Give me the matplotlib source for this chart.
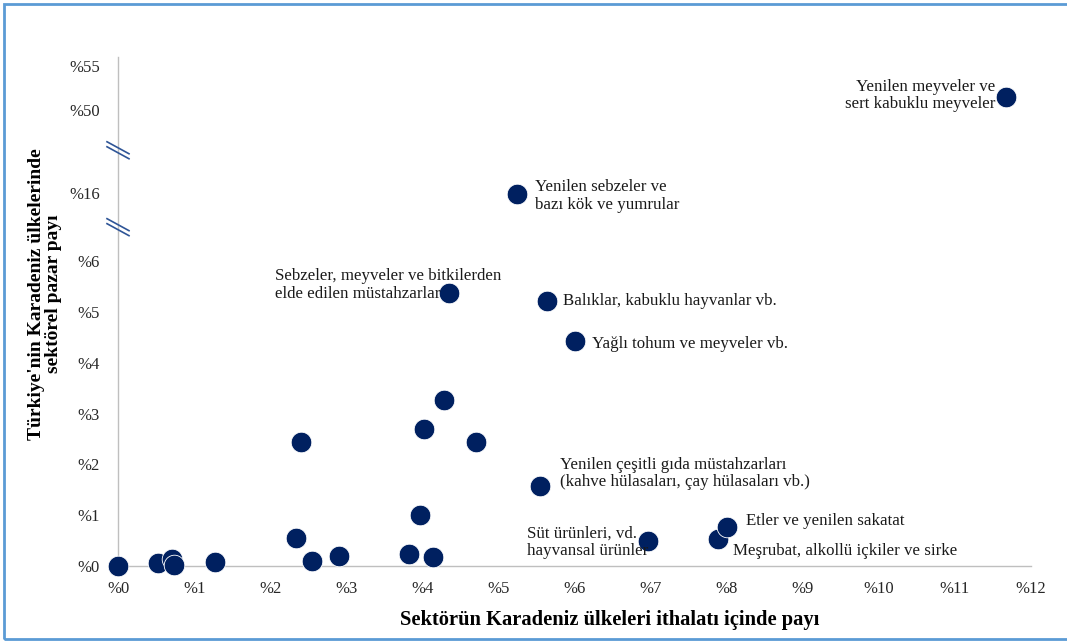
import numpy as np
import matplotlib
matplotlib.use("Agg")
import matplotlib.pyplot as plt
from matplotlib.patches import Rectangle
from matplotlib.lines import Line2D

plt.rcParams['font.family'] = ['Liberation Serif', 'DejaVu Serif']

# ithalat payi (%), pazar payi (%)
x_pay = [0.0, 0.52, 0.71, 0.73, 1.27, 2.34, 2.41, 2.55, 2.90, 3.82, 4.14, 3.97,
         4.02, 4.29, 4.71, 5.55, 6.97, 7.88, 8.00, 6.00, 5.64, 4.35, 5.24, 11.67]
y_pay = [0.0, 0.06, 0.14, 0.01, 0.07, 0.55, 2.44, 0.09, 0.19, 0.24, 0.18, 1.00,
         2.69, 3.27, 2.44, 1.57, 0.50, 0.53, 0.77, 4.43, 5.22, 5.37, 15.85, 51.5]

# etiketli noktalar: (index, metin, ofset px, hizalama)
etiketler = [
    (23, "Yenilen meyveler ve\nsert kabuklu meyveler", (-11, 1), 'right'),
    (22, "Yenilen sebzeler ve\nbazı kök ve yumrular", (18, -2), 'left'),
    (21, "Sebzeler, meyveler ve bitkilerden\nelde edilen müstahzarlar", (-174, 8), 'left'),
    (20, "Balıklar, kabuklu hayvanlar vb.", (16, 0), 'left'),
    (19, "Yağlı tohum ve meyveler vb.", (17, -3), 'left'),
    (15, "Yenilen çeşitli gıda müstahzarları\n(kahve hülasaları, çay hülasaları vb.)", (20, 13), 'left'),
    (16, "Süt ürünleri, vd.\nhayvansal ürünler", (-121, -2), 'left'),
    (18, "Etler ve yenilen sakatat", (19, 6), 'left'),
    (17, "Meşrubat, alkollü içkiler ve sirke", (15, -12), 'left'),
]

x_ticks = list(range(0, 13))
y_ticks = [0, 1, 2, 3, 4, 5, 6, 16, 50, 55]

# kirik eksen: gercek deger -> cizim konumu
kir_gercek = [0, 6, 16, 50, 56]
kir_cizim = [0, 6, 7.34, 8.98, 10.02]


def ileri(v):
    return np.interp(v, kir_gercek, kir_cizim)


def geri(v):
    return np.interp(v, kir_cizim, kir_gercek)


fig = plt.figure(figsize=(10.67, 6.43), dpi=100)
ax = fig.add_axes([118 / 1067, 77 / 643, 913 / 1067, 509 / 643])
ax.set_yscale('function', functions=(ileri, geri))

ax.scatter(x_pay, y_pay, s=220, color='#002060', edgecolor='white',
           linewidth=0.6, zorder=3, clip_on=False)

for i, metin, ofs, ha in etiketler:
    ax.annotate(metin, (x_pay[i], y_pay[i]), xytext=ofs, textcoords='offset pixels',
                ha=ha, va='center', fontsize=12.2, color='#1a1a1a', linespacing=1.12)

ax.set_xlim(0, 12)
ax.set_ylim(0, 56)
ax.set_xticks(x_ticks)
ax.set_xticklabels(["%" + str(t) for t in x_ticks])
ax.set_yticks(y_ticks)
ax.set_yticklabels(["%" + str(t) for t in y_ticks])
ax.tick_params(length=0, labelsize=12, labelcolor='#262626')
ax.tick_params(axis='x', pad=11)
ax.tick_params(axis='y', pad=13)
ax.minorticks_off()
for s in ['top', 'right']:
    ax.spines[s].set_visible(False)
for s in ['left', 'bottom']:
    ax.spines[s].set_color('#bfbfbf')
    ax.spines[s].set_linewidth(1)

ax.set_xlabel("Sektörün Karadeniz ülkeleri ithalatı içinde payı",
              fontsize=14.8, fontweight='bold', va='center')
ax.xaxis.set_label_coords(0.539, -0.106)
ax.set_ylabel("Türkiye'nin Karadeniz ülkelerinde\nsektörel pazar payı",
              fontsize=14, fontweight='bold', linespacing=1.05, va='center')
ax.yaxis.set_label_coords(-0.080, 0.534)

# kirik eksen isaretleri
fig.canvas.draw()
for yb in [11, 33.5]:
    px, py = ax.transData.transform((0, yb))
    for d in (-2.5, 2.5):
        fig.add_artist(Line2D([px - 11, px + 11], [py + 6 + d, py - 6 + d],
                              transform=None, color='#2f5597', lw=1.2))

fig.add_artist(Rectangle((4 / 1067, 4 / 643), 1.1, 635 / 643, transform=fig.transFigure,
                         fill=False, edgecolor='#5b9bd5', lw=2))

fig.savefig('out.png', dpi=100)
